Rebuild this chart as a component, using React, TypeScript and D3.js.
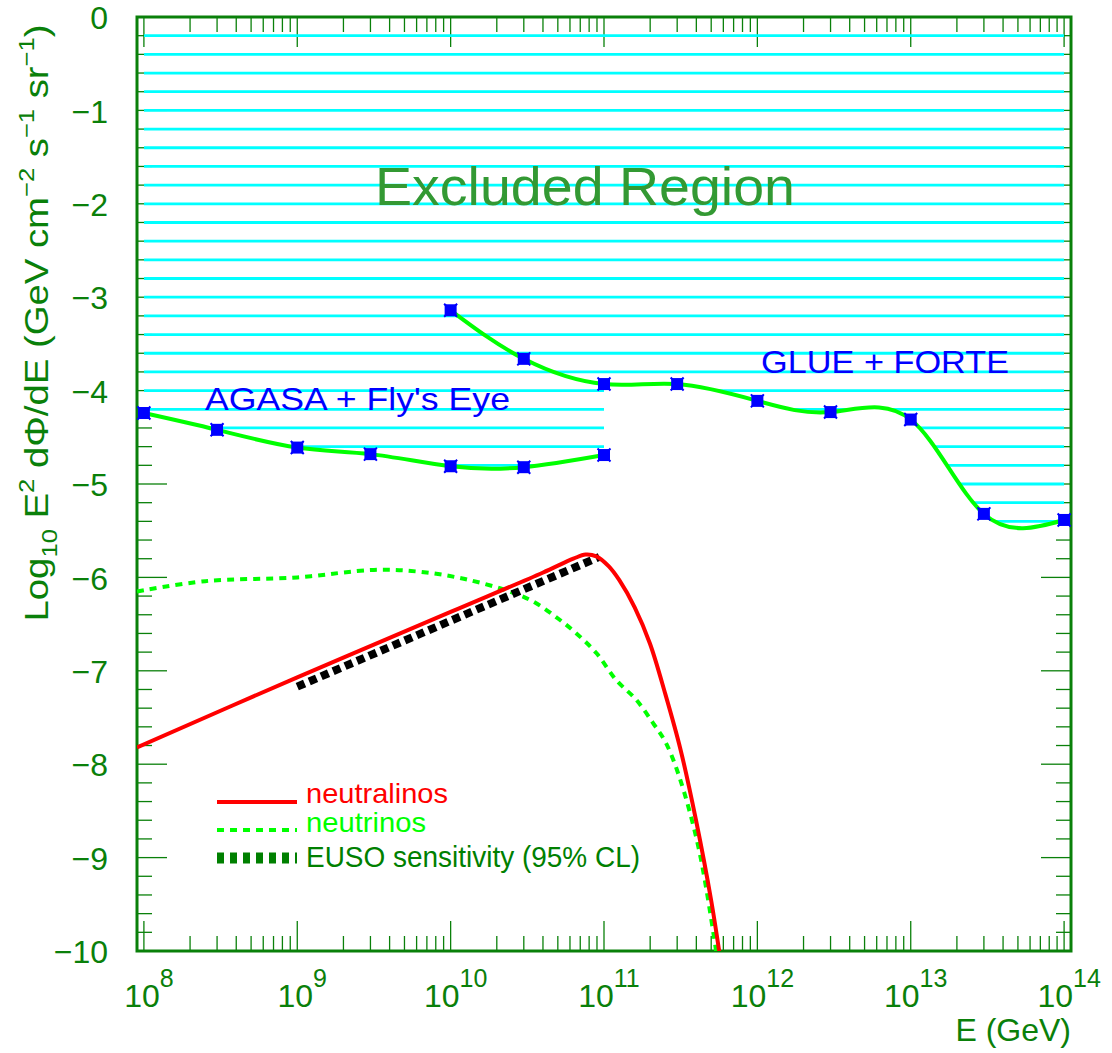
import React, { useEffect, useRef } from "react";
import * as d3 from "d3";

// AGASA + Fly's Eye limit (log10 E in GeV, log10 flux)
const agasaLogE = [8, 8.477, 9, 9.477, 10, 10.477, 11];
const agasaVal = [-4.24, -4.42, -4.61, -4.68, -4.81, -4.82, -4.69];

// GLUE + FORTE limit
const glueLogE = [10, 10.477, 11, 11.477, 12, 12.477, 13, 13.477, 14];
const glueVal = [-3.14, -3.66, -3.93, -3.93, -4.11, -4.23, -4.31, -5.32, -5.385];

// neutralino flux (red solid)
const neutralinoLogE = [7.955, 9, 10, 10.6, 10.8, 10.88, 10.95, 11.03, 11.1, 11.2, 11.3, 11.4, 11.5, 11.6, 11.7, 11.76];
const neutralinoVal = [-7.82, -7.07, -6.37, -5.95, -5.8, -5.755, -5.775, -5.88, -6.03, -6.32, -6.71, -7.25, -7.85, -8.6, -9.47, -10.1];

// neutrino flux (green dashed)
const neutrinoLogE = [7.955, 8.4, 9.0, 9.5, 9.8, 10.1, 10.4, 10.55, 10.7, 10.82, 10.95, 11.08, 11.21, 11.32, 11.4, 11.49, 11.62, 11.74];
const neutrinoVal = [-6.15, -6.04, -6.0, -5.92, -5.94, -6.02, -6.16, -6.27, -6.44, -6.6, -6.81, -7.1, -7.31, -7.56, -7.76, -8.13, -8.92, -10.1];

// EUSO sensitivity (black thick dashed)
const eusoLogE = [9.0, 10.97];
const eusoVal = [-7.17, -5.78];

const xTickExp = [8, 9, 10, 11, 12, 13, 14];
const yTickVals = [0, -1, -2, -3, -4, -5, -6, -7, -8, -9, -10];

const legendItems = [
  { label: "neutralinos", color: "#ff0000", width: 4, dash: null, textLen: 142 },
  { label: "neutrinos", color: "#00ff00", width: 4, dash: "7,6", textLen: 120 },
  { label: "EUSO sensitivity (95% CL)", color: "#008000", width: 11, dash: "7,6", textLen: 334 },
];

const W = 1112;
const H = 1053;
const axisGreen = "#0a800a";
const font = "'Liberation Sans', Arial, sans-serif";

export default function App() {
  const ref = useRef<SVGSVGElement>(null);

  useEffect(() => {
    const svg = d3.select(ref.current);
    svg.selectAll("*").remove();

    const left = 137, right = 1071, top = 17, bottom = 951;

    const x = d3.scaleLinear().domain([7.955, 14.045]).range([left, right]);
    const y = d3.scaleLinear().domain([0, -10]).range([top, bottom]);

    const zip = (xs: number[], ys: number[]) => xs.map((v, i) => [v, ys[i]] as [number, number]);

    const smooth = d3
      .line<[number, number]>()
      .x((d) => x(d[0]))
      .y((d) => y(d[1]))
      .curve(d3.curveNatural);

    const soft = d3
      .line<[number, number]>()
      .x((d) => x(d[0]))
      .y((d) => y(d[1]))
      .curve(d3.curveCatmullRom.alpha(0.5));

    const agasa = zip(agasaLogE, agasaVal);
    const glue = zip(glueLogE, glueVal);

    const defs = svg.append("defs");
    defs
      .append("clipPath")
      .attr("id", "frameClip")
      .append("rect")
      .attr("x", left)
      .attr("y", top)
      .attr("width", right - left)
      .attr("height", bottom - top);

    // excluded region above AGASA (8..11)
    defs
      .append("clipPath")
      .attr("id", "clipA")
      .append("path")
      .attr("d", smooth(agasa) + `L${x(11)},${y(0)}L${x(8)},${y(0)}Z`);

    // excluded region above GLUE, restricted to 11..14
    defs
      .append("clipPath")
      .attr("id", "clipB")
      .append("path")
      .attr("d", smooth(glue) + `L${x(14)},${y(0)}L${x(10)},${y(0)}Z`);
    defs
      .append("clipPath")
      .attr("id", "clipBx")
      .append("rect")
      .attr("x", x(11))
      .attr("y", top)
      .attr("width", x(14) - x(11))
      .attr("height", bottom - top);

    // ticks
    const ticks = svg.append("g").attr("stroke", axisGreen).attr("stroke-width", 1.3);
    xTickExp.forEach((e) => {
      ticks.append("line").attr("x1", x(e)).attr("x2", x(e)).attr("y1", bottom).attr("y2", bottom - 30);
      ticks.append("line").attr("x1", x(e)).attr("x2", x(e)).attr("y1", top).attr("y2", top + 30);
    });
    d3.range(7, 14).forEach((e) => {
      d3.range(2, 10).forEach((m) => {
        const v = e + Math.log10(m);
        if (v <= 7.96 || v >= 14.04) return;
        ticks.append("line").attr("x1", x(v)).attr("x2", x(v)).attr("y1", bottom).attr("y2", bottom - 15);
        ticks.append("line").attr("x1", x(v)).attr("x2", x(v)).attr("y1", top).attr("y2", top + 15);
      });
    });
    d3.range(0, 51).forEach((k) => {
      const v = -k * 0.2;
      const len = k % 5 === 0 ? 30 : 15;
      ticks.append("line").attr("x1", left).attr("x2", left + len).attr("y1", y(v)).attr("y2", y(v));
      ticks.append("line").attr("x1", right).attr("x2", right - len).attr("y1", y(v)).attr("y2", y(v));
    });

    // hatch of excluded region
    const hatchVals = d3.range(1, 28).map((k) => -0.2 * k);
    const drawHatch = (g: any) => {
      g.selectAll("line")
        .data(hatchVals)
        .join("line")
        .attr("x1", x(8))
        .attr("x2", x(14))
        .attr("y1", (d: number) => y(d))
        .attr("y2", (d: number) => y(d))
        .attr("stroke", "#00ffff")
        .attr("stroke-width", 2.8);
    };
    drawHatch(svg.append("g").attr("clip-path", "url(#clipA)"));
    drawHatch(
      svg
        .append("g")
        .attr("clip-path", "url(#clipBx)")
        .append("g")
        .attr("clip-path", "url(#clipB)")
    );

    // frame
    svg
      .append("rect")
      .attr("x", left)
      .attr("y", top)
      .attr("width", right - left)
      .attr("height", bottom - top)
      .attr("fill", "none")
      .attr("stroke", axisGreen)
      .attr("stroke-width", 3);

    const plot = svg.append("g").attr("clip-path", "url(#frameClip)");

    plot
      .append("path")
      .attr("d", soft(zip(neutrinoLogE, neutrinoVal)))
      .attr("fill", "none")
      .attr("stroke", "#00ff00")
      .attr("stroke-width", 4)
      .attr("stroke-dasharray", "7,6");

    plot
      .append("path")
      .attr("d", soft(zip(eusoLogE, eusoVal)))
      .attr("fill", "none")
      .attr("stroke", "#000")
      .attr("stroke-width", 8)
      .attr("stroke-dasharray", "8,5");

    plot
      .append("path")
      .attr("d", soft(zip(neutralinoLogE, neutralinoVal)))
      .attr("fill", "none")
      .attr("stroke", "#ff0000")
      .attr("stroke-width", 4);

    [agasa, glue].forEach((pts) => {
      plot
        .append("path")
        .attr("d", smooth(pts))
        .attr("fill", "none")
        .attr("stroke", "#00ff00")
        .attr("stroke-width", 4);
    });

    // markers
    const markers = svg.append("g");
    [...agasa, ...glue].forEach((d) => {
      const cx = x(d[0]), cy = y(d[1]);
      markers
        .append("path")
        .attr("d", `M${cx - 6.5},${cy - 6.5}L${cx + 6.5},${cy + 6.5}M${cx - 6.5},${cy + 6.5}L${cx + 6.5},${cy - 6.5}`)
        .attr("stroke", "#0000ff")
        .attr("stroke-width", 2);
      markers
        .append("rect")
        .attr("x", cx - 6)
        .attr("y", cy - 6)
        .attr("width", 12)
        .attr("height", 12)
        .attr("fill", "#0000ff");
    });

    // y tick labels
    svg
      .append("g")
      .selectAll("text")
      .data(yTickVals)
      .join("text")
      .attr("x", 108)
      .attr("y", (d) => y(d))
      .attr("dy", "0.38em")
      .attr("text-anchor", "end")
      .attr("font-family", font)
      .attr("font-size", 32)
      .attr("fill", axisGreen)
      .text((d) => (d === 0 ? "0" : "\u2212" + Math.abs(d)));

    // x tick labels
    xTickExp.forEach((e) => {
      const t = svg
        .append("text")
        .attr("x", x(e) + 5)
        .attr("y", 1007)
        .attr("text-anchor", "middle")
        .attr("font-family", font)
        .attr("fill", axisGreen);
      t.append("tspan").attr("font-size", 32).text("10");
      t.append("tspan").attr("font-size", 25).attr("dy", -20).text(String(e));
    });

    svg
      .append("text")
      .attr("x", right)
      .attr("y", 1041)
      .attr("text-anchor", "end")
      .attr("font-family", font)
      .attr("font-size", 32)
      .attr("fill", axisGreen)
      .text("E (GeV)");

    // y title
    const yt = svg
      .append("text")
      .attr("transform", "translate(48,323) rotate(-90)")
      .attr("text-anchor", "middle")
      .attr("font-family", font)
      .attr("font-size", 33)
      .attr("fill", axisGreen)
      .attr("textLength", 597)
      .attr("lengthAdjust", "spacingAndGlyphs");
    const parts: [string, number][] = [
      ["Log", 0],
      ["10", 1],
      [" E", 0],
      ["2", -1],
      [" d\u03A6/dE  (GeV cm", 0],
      ["\u22122", -1],
      [" s", 0],
      ["\u22121", -1],
      [" sr", 0],
      ["\u22121", -1],
      [")", 0],
    ];
    let shift = 0;
    parts.forEach(([s, k]) => {
      const target = k === 1 ? 9 : k === -1 ? -14 : 0;
      yt.append("tspan")
        .attr("dy", target - shift)
        .attr("font-size", k === 0 ? 33 : 22)
        .text(s);
      shift = target;
    });

    // annotations
    svg
      .append("text")
      .attr("x", 375)
      .attr("y", 205)
      .attr("font-family", font)
      .attr("font-size", 53)
      .attr("fill", "#339933")
      .attr("textLength", 420)
      .attr("lengthAdjust", "spacingAndGlyphs")
      .text("Excluded Region");

    svg
      .append("text")
      .attr("x", 205)
      .attr("y", 410)
      .attr("font-family", font)
      .attr("font-size", 32)
      .attr("fill", "#0000ff")
      .attr("textLength", 305)
      .attr("lengthAdjust", "spacingAndGlyphs")
      .text("AGASA + Fly's Eye");

    svg
      .append("text")
      .attr("x", 761)
      .attr("y", 373)
      .attr("font-family", font)
      .attr("font-size", 32)
      .attr("fill", "#0000ff")
      .attr("textLength", 248)
      .attr("lengthAdjust", "spacingAndGlyphs")
      .text("GLUE + FORTE");

    // legend
    const legend = svg.append("g");
    const legendY = [802, 830, 858];
    const textY = [803, 832, 867];
    legendItems.forEach((item, i) => {
      const ln = legend
        .append("line")
        .attr("x1", 217)
        .attr("x2", 297)
        .attr("y1", legendY[i])
        .attr("y2", legendY[i])
        .attr("stroke", item.color)
        .attr("stroke-width", item.width);
      if (item.dash) ln.attr("stroke-dasharray", item.dash);
      legend
        .append("text")
        .attr("x", 306)
        .attr("y", textY[i])
        .attr("font-family", font)
        .attr("font-size", i === 2 ? 29 : 28)
        .attr("fill", item.color)
        .attr("textLength", item.textLen)
        .attr("lengthAdjust", "spacingAndGlyphs")
        .text(item.label);
    });
  }, []);

  return (
    <svg
      ref={ref}
      width={W}
      height={H}
      style={{ position: "absolute", left: 0, top: 0, background: "#fff" }}
    />
  );
}
